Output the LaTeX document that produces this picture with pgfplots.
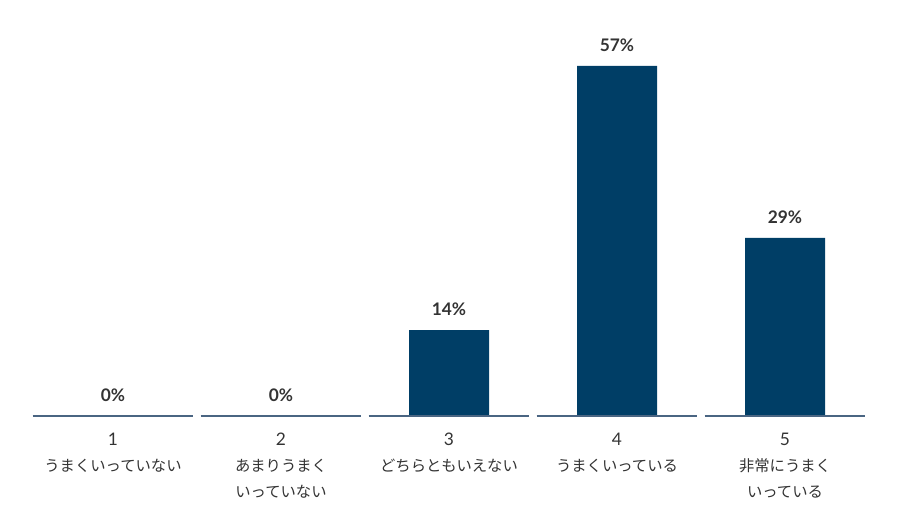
\documentclass[border=0pt]{standalone}
\usepackage{pgfplots}
\pgfplotsset{compat=1.18}
\usepackage{fontspec}
\setmainfont{Lato}
\newfontfamily\jp{Noto Sans CJK JP}

\definecolor{barcol}{HTML}{003E66}
\definecolor{basecol}{HTML}{4A6582}
\definecolor{txt}{HTML}{333333}

\newcommand{\num}[1]{{\fontsize{13}{19}\selectfont #1}}

\begin{document}
\begin{tikzpicture}
\begin{axis}[
    x=126pt, y=4.605pt,
    xmin=0.3274, xmax=5.6845,
    ymin=-18.57, ymax=67.75,
    axis x line=middle,
    axis y line=none,
    x axis line style={draw=none,-},
    xtick={1,2,3,4,5},
    major tick length=0pt,
    xticklabels={
        {\num{1}\\\jp うまくいっていない},
        {\num{2}\\\jp あまりうまく\\\jp いっていない},
        {\num{3}\\\jp どちらともいえない},
        {\num{4}\\\jp うまくいっている},
        {\num{5}\\\jp 非常にうまく\\\jp いっている}},
    xticklabel style={anchor=north, align=center, yshift=-9pt,
        font=\fontsize{11.5}{19.5}\selectfont, text=txt},
    ytick=\empty,
    clip=false,
]
\path (rel axis cs:0,0) (rel axis cs:1,1);

\addplot[ybar, bar width=60pt, fill=barcol, draw=none,
    nodes near coords={\pgfmathprintnumber[assume math mode=true]{\pgfplotspointmeta}\%},
    every node near coord/.append style={font=\bfseries\fontsize{13}{15}\selectfont,
        text=txt, yshift=7.5pt}]
    coordinates {(1,0) (2,0) (3,14) (4,57) (5,29)};

\addplot[basecol, line width=1.5pt, unbounded coords=jump] coordinates {
    (0.522,0) (1.478,0) (1.5,nan)
    (1.522,0) (2.478,0) (2.5,nan)
    (2.522,0) (3.478,0) (3.5,nan)
    (3.522,0) (4.478,0) (4.5,nan)
    (4.522,0) (5.478,0)
};
\end{axis}
\end{tikzpicture}
\end{document}
